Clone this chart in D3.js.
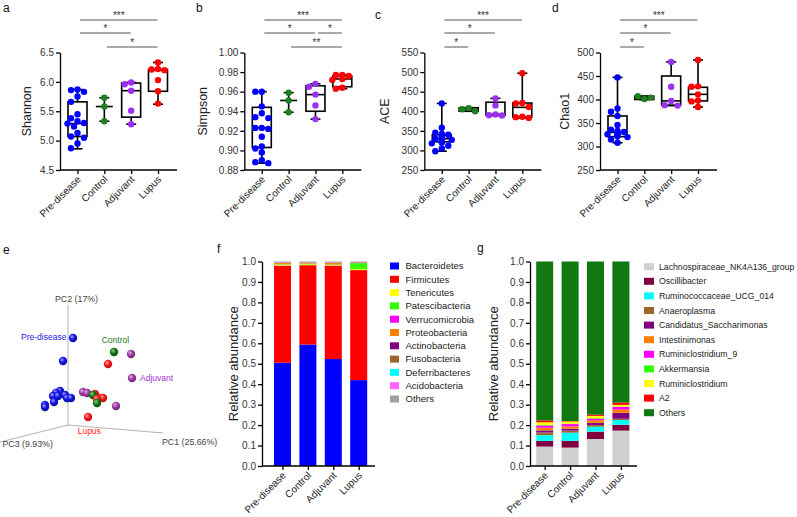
<!DOCTYPE html>
<html><head><meta charset="utf-8">
<script src="https://cdn.jsdelivr.net/npm/d3@7/dist/d3.min.js"></script>
<style>
html,body{margin:0;padding:0;background:#fff;}
svg{display:block;}
</style></head>
<body>
<svg id="chart" width="797" height="517" font-family="'Liberation Sans', Arial, Helvetica, sans-serif"></svg>
<script>
// ================= DATA =================
const groups = ["Pre-disease", "Control", "Adjuvant", "Lupus"];
const groupColors = ["#0000ff", "#1f7f1f", "#9b30f0", "#ff0000"];

// Panel a – Shannon
const shannonPoints = [
  [5.87, 5.86, 5.83, 5.75, 5.66, 5.45, 5.38, 5.33, 5.30, 5.29, 5.24, 5.13, 5.07, 5.05, 4.95, 4.87],
  [5.73, 5.58, 5.33],
  [5.99, 5.96, 5.85, 5.51, 5.28],
  [6.33, 6.22, 6.21, 6.20, 6.03, 5.84, 5.63]
];
const shannonBox = [[4.86, 5.07, 5.29, 5.66, 5.87], [5.33, 5.58, 5.58, 5.58, 5.73], [5.28, 5.40, 5.85, 5.98, 5.99], [5.62, 5.84, 6.20, 6.21, 6.33]];
const shannonTicks = [4.5, 5.0, 5.5, 6.0, 6.5];
const shannonSig = [[0, 3, 0, "***"], [0, 2, 1, "*"], [1, 3, 2, "*"]];

// Panel b – Simpson
const simpsonPoints = [
  [0.960, 0.960, 0.945, 0.938, 0.934, 0.933, 0.923, 0.923, 0.922, 0.914, 0.904, 0.902, 0.898, 0.890, 0.888, 0.887],
  [0.959, 0.951, 0.939],
  [0.968, 0.965, 0.957, 0.946, 0.932],
  [0.977, 0.977, 0.976, 0.973, 0.972, 0.964, 0.963]
];
const simpsonBox = [[0.887, 0.903, 0.923, 0.944, 0.960], [0.939, 0.951, 0.951, 0.951, 0.959], [0.932, 0.940, 0.957, 0.966, 0.968], [0.963, 0.965, 0.973, 0.976, 0.977]];
const simpsonTicks = [0.88, 0.90, 0.92, 0.94, 0.96, 0.98, 1.00];
const simpsonSig = [[0, 3, 0, "***"], [0, 2, 1, "*"], [2, 3, 1, "*"], [1, 3, 2, "**"]];

// Panel c – ACE
const acePoints = [
  [420, 358, 345, 342, 340, 337, 335, 330, 327, 325, 322, 320, 318, 312, 305, 298],
  [408, 405, 400],
  [433, 415, 392, 390, 389],
  [497, 421, 420, 411, 386, 385, 383]
];
const aceBox = [[298, 322, 330, 340, 420], [400, 400, 405, 409, 409], [389, 390, 392, 423, 433], [383, 385, 410, 421, 497]];
const aceTicks = [250, 300, 350, 400, 450, 500, 550];
const aceSig = [[0, 3, 0, "***"], [0, 2, 1, "*"], [0, 1, 2, "*"]];

// Panel d – Chao1
const chaoPoints = [
  [447, 381, 374, 365, 346, 336, 333, 331, 330, 328, 326, 324, 322, 320, 315, 308],
  [401, 407, 404],
  [480, 427, 397, 388, 387],
  [484, 428, 427, 411, 398, 396, 384]
];
const chaoBox = [[308, 321, 330, 365, 447], [400, 400, 404, 407, 407], [387, 388, 397, 450, 480], [384, 397, 411, 426, 484]];
const chaoTicks = [250, 300, 350, 400, 450, 500];
const chaoSig = [[0, 3, 0, "***"], [0, 2, 1, "*"], [0, 1, 2, "*"]];

// Panel e – PCoA (projected scene units)
const pcoaAxisLabels = ["PC1 (25.66%)", "PC2 (17%)", "PC3 (9.93%)"];
const pcoaPre = [[0.5, 8.7], [-0.5, 6.4], [-0.8, 3.4], [-1.2, 3.2], [-1.5, 2.9], [-1.0, 2.9], [-0.3, 3.0], [-0.1, 2.7], [0.3, 2.7], [-1.4, 2.3], [-2.3, 2.0], [-2.3, 1.8]];
const pcoaControl = [[4.6, 7.3], [2.5, 3.0], [2.9, 2.2]];
const pcoaAdjuvant = [[6.3, 7.1], [6.4, 4.7], [1.5, 3.3], [1.9, 3.2], [4.8, 1.9]];
const pcoaLupus = [[4.0, 6.1], [2.7, 3.1], [3.2, 2.7], [3.5, 2.7], [2.9, 2.6], [2.0, 0.8]];
const pcoaSphereColors = ["#1414e6", "#0f7a0f", "#a03ca8", "#ff1a1a"];
const pcoaLabelColors = ["#2222dd", "#1a7a1a", "#9933cc", "#ff2222"];

// Panel f – phylum
const phyla = ["Bacteroidetes", "Firmicutes", "Tenericutes", "Patescibacteria", "Verrucomicrobia", "Proteobacteria", "Actinobacteria", "Fusobacteria", "Deferribacteres", "Acidobacteria", "Others"];
const phylaColors = ["#0000ff", "#ff0000", "#ffff00", "#33ff00", "#ff00ff", "#ff8000", "#800080", "#a0652d", "#00ffff", "#ff66ff", "#a0a0a4"];
const phylaPre = [0.505, 0.475, 0.005, 0.002, 0.001, 0.005, 0.001, 0.001, 0.001, 0.001, 0.003];
const phylaControl = [0.594, 0.388, 0.004, 0.003, 0.001, 0.004, 0.001, 0.001, 0.001, 0.001, 0.002];
const phylaAdjuvant = [0.523, 0.457, 0.003, 0.002, 0.001, 0.007, 0.001, 0.001, 0.001, 0.001, 0.003];
const phylaLupus = [0.420, 0.538, 0.004, 0.030, 0.001, 0.002, 0.001, 0.001, 0.001, 0.001, 0.001];

// Panel g – genus
const genera = ["Lachnospiraceae_NK4A136_group", "Oscillibacter", "Ruminococcaceae_UCG_014", "Anaeroplasma", "Candidatus_Saccharimonas", "Intestinimonas", "Ruminiclostridium_9", "Akkermansia", "Ruminiclostridium", "A2", "Others"];
const generaColors = ["#d0d0d0", "#800040", "#00ffff", "#a0652d", "#800080", "#ff8000", "#ff00ff", "#33ff00", "#ffff00", "#ff0000", "#127812"];
const generaPre = [0.095, 0.028, 0.028, 0.013, 0.010, 0.013, 0.011, 0.003, 0.013, 0.009, 0.777];
const generaControl = [0.090, 0.033, 0.040, 0.010, 0.010, 0.011, 0.011, 0.002, 0.011, 0.002, 0.780];
const generaAdjuvant = [0.132, 0.036, 0.024, 0.008, 0.011, 0.013, 0.008, 0.002, 0.011, 0.006, 0.749];
const generaLupus = [0.173, 0.029, 0.023, 0.006, 0.029, 0.016, 0.013, 0.002, 0.008, 0.011, 0.690];

const abundanceTicks = [0, 0.1, 0.2, 0.3, 0.4, 0.5, 0.6, 0.7, 0.8, 0.9, 1.0];

// ================= DRAWING =================
const svg = d3.select("#chart");
const INK = "#111";

function styleAxis(sel) {
  sel.selectAll("path.domain").attr("stroke", "#000").attr("stroke-width", 1.3);
  sel.selectAll(".tick line").attr("stroke", "#000").attr("stroke-width", 1.3);
  sel.selectAll(".tick text").attr("font-size", 10).attr("fill", "#333").attr("font-family", null);
}

function letter(t, x, y) {
  svg.append("text").attr("x", x).attr("y", y).attr("font-size", 12).attr("fill", INK).text(t);
}

function boxPanel(cfg) {
  const g = svg.append("g");
  const yTop = 52.5, yBot = 170;
  const y = d3.scaleLinear().domain([cfg.ticks[0], cfg.ticks[cfg.ticks.length - 1]]).range([yBot, yTop]);
  const x = d3.scalePoint().domain(groups).range([cfg.x0 + 17.5, cfg.x0 + 98]);

  const ya = d3.axisLeft(y).tickValues(cfg.ticks).tickFormat(d3.format(cfg.fmt)).tickSize(4).tickSizeOuter(0).tickPadding(2);
  g.append("g").attr("transform", `translate(${cfg.x0},0)`).call(ya).call(styleAxis);

  const xa = d3.axisBottom(x).tickSize(4).tickSizeOuter(0).tickFormat("");
  const xg = g.append("g").attr("transform", `translate(0,${yBot})`).call(xa).call(styleAxis);
  xg.select("path.domain").remove();
  g.append("line").attr("x1", cfg.x0).attr("x2", cfg.x0 + 117).attr("y1", yBot).attr("y2", yBot)
    .attr("stroke", "#000").attr("stroke-width", 1.3);

  g.selectAll("text.cat").data(groups).join("text")
    .attr("font-size", 10).attr("fill", "#222").attr("text-anchor", "end")
    .attr("transform", d => `translate(${x(d) + 4},${yBot + 10}) rotate(-45)`)
    .text(d => d);

  g.append("text").attr("font-size", 12.5).attr("fill", "#222").attr("text-anchor", "middle")
    .attr("transform", `translate(${cfg.labelX},${(yTop + yBot) / 2}) rotate(-90)`)
    .attr("dy", "0.35em").text(cfg.label);

  const bw = 19, cw = 10;
  cfg.box.forEach((b, i) => {
    const cx = x(groups[i]);
    const [mn, q1, md, q3, mx] = b;
    const bg = g.append("g").attr("stroke", "#000").attr("stroke-width", 1.6).attr("fill", "none");
    bg.append("line").attr("x1", cx).attr("x2", cx).attr("y1", y(mx)).attr("y2", y(q3));
    bg.append("line").attr("x1", cx).attr("x2", cx).attr("y1", y(q1)).attr("y2", y(mn));
    bg.append("line").attr("x1", cx - cw / 2).attr("x2", cx + cw / 2).attr("y1", y(mx)).attr("y2", y(mx));
    bg.append("line").attr("x1", cx - cw / 2).attr("x2", cx + cw / 2).attr("y1", y(mn)).attr("y2", y(mn));
    if (q3 > q1) {
      bg.append("rect").attr("x", cx - bw / 2).attr("width", bw).attr("y", y(q3)).attr("height", y(q1) - y(q3));
      bg.append("line").attr("x1", cx - bw / 2).attr("x2", cx + bw / 2).attr("y1", y(md)).attr("y2", y(md));
    } else {
      bg.append("line").attr("x1", cx - 8.5).attr("x2", cx + 8.5).attr("y1", y(md)).attr("y2", y(md));
    }
  });

  // points (simple beeswarm)
  const r = 3.2;
  cfg.points.forEach((vals, i) => {
    const cx = x(groups[i]);
    const placed = [];
    const offs = [0, -6.5, 6.5, -3.5, 3.5, -10, 10];
    vals.forEach(v => {
      const py = y(v);
      let px = cx;
      for (const o of offs) {
        const cand = cx + o;
        if (placed.every(p => Math.hypot(p[0] - cand, p[1] - py) >= 2 * r - 0.6)) { px = cand; break; }
      }
      placed.push([px, py]);
    });
    g.selectAll(null).data(placed).join("circle")
      .attr("cx", d => d[0]).attr("cy", d => d[1]).attr("r", r).attr("fill", groupColors[i]);
  });

  // significance
  const levels = [20, 33, 47];
  cfg.sig.forEach(([a, b, lv, s]) => {
    const ly = levels[lv];
    const x1 = x(groups[a]) + 2.5, x2 = x(groups[b]) - 0.5;
    g.append("line").attr("x1", x1).attr("x2", x2).attr("y1", ly).attr("y2", ly).attr("stroke", "#555").attr("stroke-width", 1);
    g.append("text").attr("x", (x1 + x2) / 2).attr("y", ly - 1).attr("text-anchor", "middle")
      .attr("font-size", 10).attr("fill", "#333").text(s);
  });
}

boxPanel({ x0: 60, labelX: 27, label: "Shannon", ticks: shannonTicks, fmt: ".1f", points: shannonPoints, box: shannonBox, sig: shannonSig });
boxPanel({ x0: 244.3, labelX: 203, label: "Simpson", ticks: simpsonTicks, fmt: ".2f", points: simpsonPoints, box: simpsonBox, sig: simpsonSig });
boxPanel({ x0: 424.3, labelX: 385, label: "ACE", ticks: aceTicks, fmt: "d", points: acePoints, box: aceBox, sig: aceSig });
boxPanel({ x0: 600, labelX: 565, label: "Chao1", ticks: chaoTicks, fmt: "d", points: chaoPoints, box: chaoBox, sig: chaoSig });

letter("a", 3, 12);
letter("b", 196, 12);
letter("c", 375, 19);
letter("d", 552, 12);
letter("e", 3, 254);
letter("f", 217, 253);
letter("g", 477, 252);

// ---------- Panel e: 3D PCoA ----------
(function () {
  const g = svg.append("g");
  const sx = d3.scaleLinear().domain([-6.8, 15.2]).range([0, 220]);
  const sy = d3.scaleLinear().domain([0, 15]).range([425, 275]);
  const axisEnds = [[9.5, -0.8], [0, 12], [-6.8, -1.7]];
  axisEnds.forEach(e => {
    g.append("line").attr("x1", sx(0)).attr("y1", sy(0)).attr("x2", sx(e[0])).attr("y2", sy(e[1]))
      .attr("stroke", "#aaa").attr("stroke-width", 0.9);
  });
  g.append("text").attr("x", sx(9.4)).attr("y", 445).attr("font-size", 8.8).attr("fill", "#444").text(pcoaAxisLabels[0]);
  g.append("text").attr("x", 55).attr("y", 302).attr("font-size", 8.8).attr("fill", "#444").text(pcoaAxisLabels[1]);
  g.append("text").attr("x", 2.5).attr("y", 447).attr("font-size", 8.8).attr("fill", "#444").text(pcoaAxisLabels[2]);

  const defs = svg.append("defs");
  pcoaSphereColors.forEach((c, i) => {
    const grad = defs.append("radialGradient").attr("id", "sph" + i).attr("cx", "38%").attr("cy", "35%").attr("r", "70%");
    grad.append("stop").attr("offset", "0%").attr("stop-color", d3.interpolateRgb(c, "#fff")(0.6));
    grad.append("stop").attr("offset", "45%").attr("stop-color", c);
    grad.append("stop").attr("offset", "100%").attr("stop-color", d3.color(c).darker(1.3));
  });

  const sets = [pcoaPre, pcoaControl, pcoaAdjuvant, pcoaLupus];
  const all = [];
  sets.forEach((s, i) => s.forEach(p => all.push({ u: p[0], v: p[1], gi: i })));
  all.sort((a, b) => b.v - a.v);
  g.selectAll("circle.sph").data(all).join("circle")
    .attr("cx", d => sx(d.u)).attr("cy", d => sy(d.v)).attr("r", 4.2)
    .attr("fill", d => `url(#sph${d.gi})`);

  const labPos = [[21, 339.5], [101.7, 343], [140, 381], [77.7, 434]];
  groups.forEach((gname, i) => {
    g.append("text").attr("x", labPos[i][0]).attr("y", labPos[i][1]).attr("font-size", 8.5)
      .attr("fill", pcoaLabelColors[i]).text(gname);
  });
})();

// ---------- Stacked bar panels ----------
function stackPanel(cfg) {
  const g = svg.append("g");
  const yTop = 261.5, yBot = 466;
  const y = d3.scaleLinear().domain([0, 1]).range([yBot, yTop]);
  const x = d3.scalePoint().domain(groups).range([cfg.firstX, cfg.firstX + 3 * 25.4]);
  const rows = groups.map((gname, i) => {
    const o = { group: gname };
    cfg.keys.forEach((k, j) => o[k] = cfg.values[i][j]);
    return o;
  });
  const series = d3.stack().keys(cfg.keys)(rows);
  const bw = 17;
  series.forEach((s, j) => {
    g.selectAll(null).data(s).join("rect")
      .attr("x", d => x(d.data.group) - bw / 2).attr("width", bw)
      .attr("y", d => y(d[1])).attr("height", d => Math.max(0, y(d[0]) - y(d[1])))
      .attr("fill", cfg.colors[j]);
  });

  const ya = d3.axisLeft(y).tickValues(abundanceTicks).tickFormat(d3.format(".1f")).tickSize(4).tickSizeOuter(0).tickPadding(2);
  g.append("g").attr("transform", `translate(${cfg.x0},0)`).call(ya).call(styleAxis);
  const xa = d3.axisBottom(x).tickSize(4).tickSizeOuter(0).tickFormat("");
  const xg = g.append("g").attr("transform", `translate(0,${yBot})`).call(xa).call(styleAxis);
  xg.select("path.domain").remove();
  g.append("line").attr("x1", cfg.x0).attr("x2", cfg.xEnd).attr("y1", yBot).attr("y2", yBot)
    .attr("stroke", "#000").attr("stroke-width", 1.3);

  g.selectAll("text.cat").data(groups).join("text")
    .attr("font-size", 10).attr("fill", "#222").attr("text-anchor", "end")
    .attr("transform", d => `translate(${x(d) + 4},${yBot + 10}) rotate(-45)`)
    .text(d => d);

  g.append("text").attr("font-size", 13).attr("fill", "#222").attr("text-anchor", "middle")
    .attr("transform", `translate(${cfg.labelX},${(yTop + yBot) / 2}) rotate(-90)`)
    .attr("dy", "0.35em").text("Relative abundance");

  const lg = g.append("g");
  cfg.keys.forEach((k, j) => {
    const cy = cfg.legY + j * cfg.legStep;
    lg.append("rect").attr("x", cfg.legX).attr("y", cy - 3.5).attr("width", cfg.swW).attr("height", 7).attr("fill", cfg.colors[j]);
    lg.append("text").attr("x", cfg.legTextX).attr("y", cy).attr("dy", "0.35em").attr("font-size", cfg.legFont).attr("fill", "#222").text(k);
  });
}

stackPanel({ x0: 262, xEnd: 375, firstX: 282.5, labelX: 233, keys: phyla, colors: phylaColors,
  values: [phylaPre, phylaControl, phylaAdjuvant, phylaLupus],
  legX: 390, legTextX: 405.5, legY: 266, legStep: 13.3, swW: 9, legFont: 9.5 });
stackPanel({ x0: 530, xEnd: 637, firstX: 544.7, labelX: 493, keys: genera, colors: generaColors,
  values: [generaPre, generaControl, generaAdjuvant, generaLupus],
  legX: 644, legTextX: 659, legY: 266.7, legStep: 14.6, swW: 10, legFont: 8.7 });
</script>
</body></html>
